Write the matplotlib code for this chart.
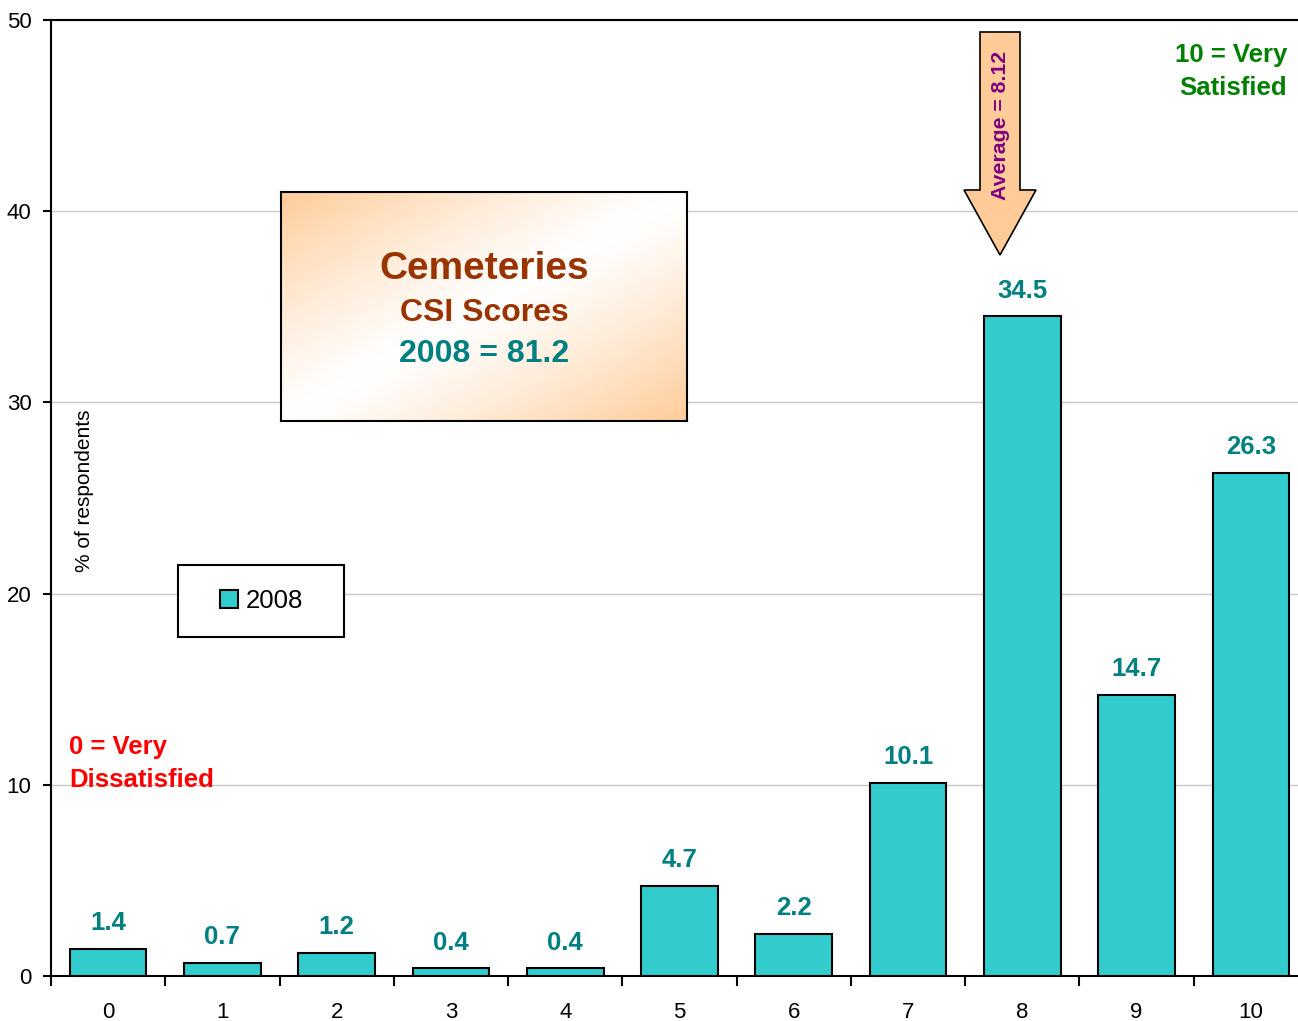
import matplotlib.pyplot as plt
import numpy as np
from matplotlib.patches import Rectangle, Polygon, Patch

# data
scores = list(range(11))
pct_2008 = [1.4, 0.7, 1.2, 0.4, 0.4, 4.7, 2.2, 10.1, 34.5, 14.7, 26.3]
series_name = "2008"
csi_2008 = 81.2
avg_2008 = 8.12
y_ticks = [0, 10, 20, 30, 40, 50]

bar_col = '#33CCCC'
teal = '#008080'
brown = '#993300'
peach = '#FFCC99'

plt.rcParams['font.family'] = ['Liberation Sans', 'DejaVu Sans']

W, H = 1298, 1021
fig = plt.figure(figsize=(W / 100, H / 100), dpi=100)


def fx(x):
    return x / W


def fy(y):
    return 1 - y / H


ax = fig.add_axes([fx(51), 45 / H, 1257 / W, 956 / H])
ax.bar(scores, pct_2008, width=0.67, color=bar_col, edgecolor='black',
       linewidth=1.5, zorder=3)
ax.set_xlim(-0.5, 10.5)
ax.set_ylim(0, 50)
ax.set_yticks(y_ticks)
ax.yaxis.grid(True, color='#C8C8C8', linewidth=1)
ax.set_axisbelow(True)

for sp in ['top', 'left', 'bottom']:
    ax.spines[sp].set_linewidth(1.5)
ax.spines['right'].set_visible(False)

ax.set_xticks(scores)
ax.set_xticklabels([str(s) for s in scores])
ax.set_xticks([s - 0.5 for s in scores] + [10.5], minor=True)
ax.tick_params(axis='x', which='major', length=0, pad=19, labelsize=16)
ax.tick_params(axis='x', which='minor', length=7, width=1.5, direction='out')
ax.tick_params(axis='y', length=6, width=1.5, pad=8, labelsize=16)

for s, v in zip(scores, pct_2008):
    ax.annotate(f"{v}", (s, v), xytext=(0, 13.5), textcoords='offset points',
                ha='center', va='baseline', fontsize=18.5, fontweight='bold',
                color=teal, zorder=5)

ax.text(0.027, 0.508, '% of respondents', transform=ax.transAxes,
        rotation=90, ha='center', va='center', fontsize=15)

# gradient title box
bx = fig.add_axes([fx(281), fy(421), (687 - 281) / W, (421 - 192) / H])
nx, ny = 406, 229
u = np.linspace(0, 1, nx)[None, :]
v = np.linspace(0, 1, ny)[:, None]
f = np.abs(u + v - 1) ** 1.2
c0 = np.array([1.0, 1.0, 1.0])
c1 = np.array([255, 204, 153]) / 255
img = c0[None, None, :] * (1 - f[..., None]) + c1[None, None, :] * f[..., None]
bx.imshow(img, aspect='auto', extent=[0, 1, 0, 1], origin='upper')
bx.set_xlim(0, 1)
bx.set_ylim(0, 1)
bx.set_xticks([])
bx.set_yticks([])
for sp in bx.spines.values():
    sp.set_linewidth(1.5)

fig.text(fx(484), fy(269), 'Cemeteries', ha='center', va='center',
         fontsize=28, fontweight='bold', color=brown)
fig.text(fx(484), fy(313), 'CSI Scores', ha='center', va='center',
         fontsize=23, fontweight='bold', color=brown)
fig.text(fx(484), fy(354), f'{series_name} = {csi_2008}', ha='center',
         va='center', fontsize=23, fontweight='bold', color=teal)

# average arrow
arrow_px = [(980, 32), (1020, 32), (1020, 190), (1036, 190), (1000, 255),
            (964, 190), (980, 190)]
fig.patches.append(Polygon([(fx(x), fy(y)) for x, y in arrow_px], closed=True,
                           facecolor=peach, edgecolor='black', linewidth=1.2,
                           transform=fig.transFigure, zorder=4))
fig.text(fx(1000), fy(125), f'Average = {avg_2008}', rotation=90,
         ha='center', va='center', fontsize=15.3, fontweight='bold',
         color='#800080', zorder=5)

# end labels
fig.text(fx(1287), fy(43), '10 = Very\nSatisfied', ha='right', va='top',
         fontsize=18.5, fontweight='bold', color='#008000', linespacing=1.47)
fig.text(fx(69), fy(735), '0 = Very\nDissatisfied', ha='left', va='top',
         fontsize=18.5, fontweight='bold', color='#FF0000', linespacing=1.47)

# legend
fig.patches.append(Rectangle((fx(178), fy(637)), (344 - 178) / W,
                             (637 - 565) / H, facecolor='white',
                             edgecolor='black', linewidth=1.5,
                             transform=fig.transFigure, zorder=4))
leg = fig.legend(handles=[Patch(facecolor=bar_col, edgecolor='black',
                                linewidth=1.5, label=series_name)],
                 loc='center', bbox_to_anchor=(fx(262), fy(601)),
                 frameon=False, fontsize=18.5, handlelength=0.7,
                 handleheight=0.7, handletextpad=0.3, borderpad=0)
leg.set_zorder(5)

fig.savefig('out.png', dpi=100)
